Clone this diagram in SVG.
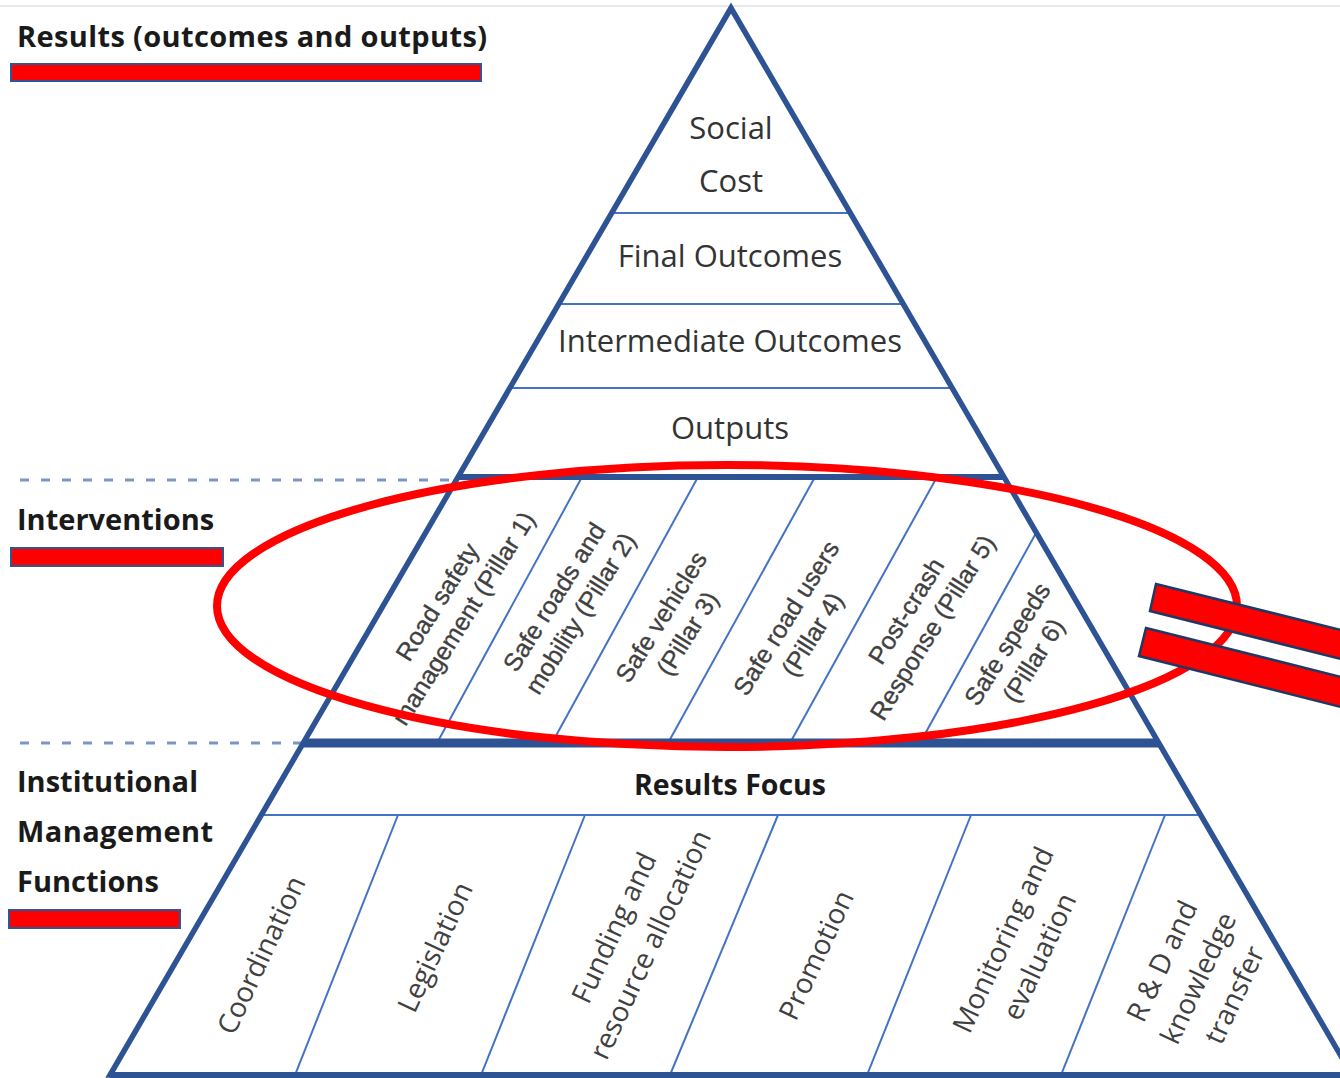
<svg xmlns="http://www.w3.org/2000/svg" width="1340" height="1078" viewBox="0 0 1340 1078">
<style>
.lbl{font-family:"Open Sans","Liberation Sans",sans-serif;font-weight:700;font-size:29px;fill:#1a1a1a}
.tier{font-family:"Open Sans","Liberation Sans",sans-serif;font-size:31px;fill:#333;text-anchor:middle}
.imf{font-family:"Open Sans","Liberation Sans",sans-serif;font-size:28px;fill:#404040;text-anchor:middle}
.pil{font-family:"Liberation Sans",Arial,sans-serif;font-size:25px;fill:#404040;stroke:#404040;stroke-width:0.35;text-anchor:middle}
.thin{stroke:#4472C4;stroke-width:2;fill:none}
.thick{stroke:#2E5395;fill:none}
.redbar{fill:#FF0000;stroke:#2F5597;stroke-width:2}
.dash{stroke:#7B95C6;stroke-width:3;stroke-dasharray:9 12;fill:none}
.pointer{fill:#FF0000;stroke:#203864;stroke-width:2.5;stroke-linejoin:miter}
</style>
<defs>
<clipPath id="tri"><polygon points="731,8 110,1075 1352,1075"/></clipPath>
</defs>
<rect width="1340" height="1078" fill="#fff"/>
<line x1="0" y1="6" x2="1340" y2="6" stroke="#e8e8e8" stroke-width="2"/>

<g id="separators">
<line class="dash" x1="20" y1="480" x2="456" y2="480"/>
<line class="dash" x1="20" y1="743" x2="303" y2="743"/>
</g>

<g id="pyramid">
<g clip-path="url(#tri)">
<line class="thin" x1="100" y1="213" x2="1300" y2="213"/>
<line class="thin" x1="100" y1="304" x2="1300" y2="304"/>
<line class="thin" x1="100" y1="388" x2="1300" y2="388"/>
<line class="thin" x1="100" y1="815" x2="1340" y2="815"/>
<line class="thin" x1="582" y1="477" x2="437" y2="743"/>
<line class="thin" x1="698" y1="477" x2="552" y2="743"/>
<line class="thin" x1="815" y1="477" x2="668" y2="743"/>
<line class="thin" x1="937" y1="477" x2="790" y2="743"/>
<line class="thin" x1="1067" y1="477" x2="920" y2="743"/>
<line class="thin" x1="398" y1="815" x2="295" y2="1075"/>
<line class="thin" x1="585" y1="815" x2="481" y2="1075"/>
<line class="thin" x1="778" y1="815" x2="670" y2="1075"/>
<line class="thin" x1="971" y1="815" x2="867" y2="1075"/>
<line class="thin" x1="1165" y1="815" x2="1061" y2="1075"/>
</g>
<line class="thick" x1="458" y1="477" x2="1004" y2="477" stroke-width="6"/>
<line class="thick" x1="303" y1="743" x2="1159" y2="743" stroke-width="9"/>
<line class="thick" x1="110" y1="1075" x2="1352" y2="1075" stroke-width="6"/>
<polygon class="thick" points="731,8 110,1075 1352,1075" stroke-width="5.5" stroke-linejoin="miter"/>
</g>

<g id="tier-social-cost"><text class="tier" x="731" y="139">Social</text><text class="tier" x="731" y="192">Cost</text></g>
<g id="tier-final-outcomes"><text class="tier" x="730" y="267">Final Outcomes</text></g>
<g id="tier-intermediate-outcomes"><text class="tier" x="730" y="352">Intermediate Outcomes</text></g>
<g id="tier-outputs"><text class="tier" x="730" y="439">Outputs</text></g>

<g id="pillar-1"><text class="pil" transform="translate(450,610) rotate(-58)"><tspan x="0" y="-6.5">Road safety</tspan><tspan x="0" y="24.5">management (Pillar 1)</tspan></text></g>
<g id="pillar-2"><text class="pil" transform="translate(567,605) rotate(-58)"><tspan x="0" y="-6.5">Safe roads and</tspan><tspan x="0" y="24.5">mobility (Pillar 2)</tspan></text></g>
<g id="pillar-3"><text class="pil" transform="translate(674,625) rotate(-58)"><tspan x="0" y="-6.5">Safe vehicles</tspan><tspan x="0" y="24.5">(Pillar 3)</tspan></text></g>
<g id="pillar-4"><text class="pil" transform="translate(799,626) rotate(-58)"><tspan x="0" y="-6.5">Safe road users</tspan><tspan x="0" y="24.5">(Pillar 4)</tspan></text></g>
<g id="pillar-5"><text class="pil" transform="translate(919,619) rotate(-58)"><tspan x="0" y="-6.5">Post-crash</tspan><tspan x="0" y="24.5">Response (Pillar 5)</tspan></text></g>
<g id="pillar-6"><text class="pil" transform="translate(1020,652) rotate(-58)"><tspan x="0" y="-6.5">Safe speeds</tspan><tspan x="0" y="24.5">(Pillar 6)</tspan></text></g>

<g id="results-focus"><text x="730" y="795" text-anchor="middle" style="font-family:'Open Sans','Liberation Sans',sans-serif;font-weight:700;font-size:28.5px;fill:#1a1a1a">Results Focus</text></g>

<g id="imf-coordination"><text class="imf" transform="translate(261,955) rotate(-65)" x="0" y="10">Coordination</text></g>
<g id="imf-legislation"><text class="imf" transform="translate(435,947) rotate(-65)" x="0" y="10">Legislation</text></g>
<g id="imf-funding"><text class="imf" transform="translate(632,936) rotate(-65)"><tspan x="0" y="-10">Funding and</tspan><tspan x="0" y="30">resource allocation</tspan></text></g>
<g id="imf-promotion"><text class="imf" transform="translate(816,955) rotate(-65)" x="0" y="10">Promotion</text></g>
<g id="imf-monitoring"><text class="imf" transform="translate(1021,948) rotate(-65)"><tspan x="0" y="-10">Monitoring and</tspan><tspan x="0" y="30">evaluation</tspan></text></g>
<g id="imf-rd"><text class="imf" transform="translate(1198,978) rotate(-65)"><tspan x="0" y="-30">R &amp; D and</tspan><tspan x="0" y="10">knowledge</tspan><tspan x="0" y="50">transfer</tspan></text></g>

<g id="highlight-ellipse"><ellipse cx="727" cy="606" rx="510" ry="141" fill="none" stroke="#FF0000" stroke-width="8"/></g>

<g id="pointer-bars">
<polygon class="pointer" points="1156,584 1345,631 1345,660 1150,611"/>
<polygon class="pointer" points="1146,628 1345,678 1345,708 1139,656"/>
</g>

<g id="label-results">
<text class="lbl" x="17" y="47" textLength="470" lengthAdjust="spacing">Results (outcomes and outputs)</text>
<rect class="redbar" x="11" y="64" width="470" height="17"/>
</g>
<g id="label-interventions">
<text class="lbl" x="17" y="530">Interventions</text>
<rect class="redbar" x="11" y="548" width="212" height="18"/>
</g>
<g id="label-institutional">
<text class="lbl" x="17" y="792">Institutional</text>
<text class="lbl" x="17" y="842" textLength="196" lengthAdjust="spacing">Management</text>
<text class="lbl" x="17" y="892">Functions</text>
<rect class="redbar" x="9" y="910" width="171" height="18"/>
</g>
</svg>
